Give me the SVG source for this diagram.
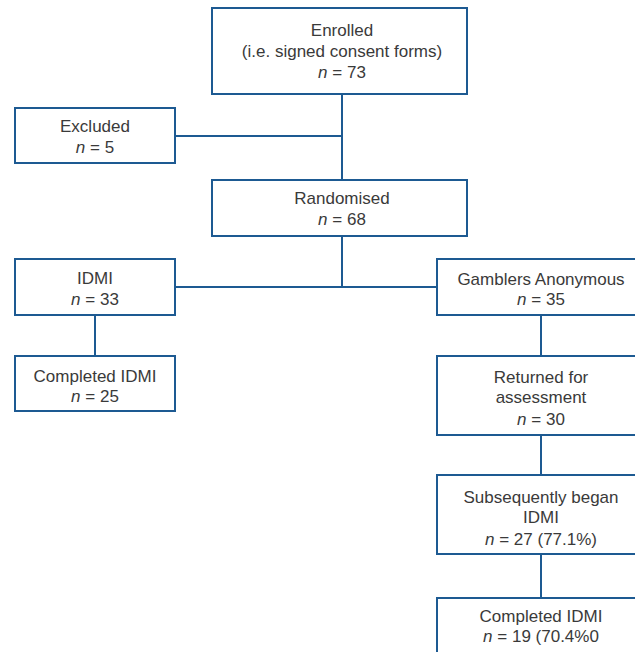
<svg xmlns="http://www.w3.org/2000/svg" width="635" height="652" viewBox="0 0 635 652">
<style>
.box{fill:#fff;stroke:#1d5a92;stroke-width:2}
.ln{fill:none;stroke:#1d5a92;stroke-width:2}
text{font-family:"Liberation Sans",Arial,sans-serif;font-size:17px;fill:#3a3a3a;text-anchor:middle}
.i{font-style:italic}
</style>
<rect width="635" height="652" fill="#fff"/>
<g id="connectors">
<path class="ln" d="M342 94V287"/>
<path class="ln" d="M175 136H342"/>
<path class="ln" d="M175 287H437"/>
<path class="ln" d="M95 315V356"/>
<path class="ln" d="M541 315V356"/>
<path class="ln" d="M541 435V475"/>
<path class="ln" d="M541 554V598"/>
</g>
<g id="enrolled">
<rect class="box" x="212" y="8" width="255" height="86"/>
<text x="342" y="36">Enrolled</text>
<text x="342" y="57">(i.e. signed consent forms)</text>
<text x="342" y="78"><tspan class="i">n</tspan> = 73</text>
</g>
<g id="excluded">
<rect class="box" x="15" y="108" width="160" height="55"/>
<text x="95" y="132">Excluded</text>
<text x="95" y="153"><tspan class="i">n</tspan> = 5</text>
</g>
<g id="randomised">
<rect class="box" x="212" y="180" width="255" height="56"/>
<text x="342" y="204">Randomised</text>
<text x="342" y="225"><tspan class="i">n</tspan> = 68</text>
</g>
<g id="idmi">
<rect class="box" x="15" y="259" width="160" height="56"/>
<text x="95" y="284">IDMI</text>
<text x="95" y="305"><tspan class="i">n</tspan> = 33</text>
</g>
<g id="completed-idmi">
<rect class="box" x="15" y="356" width="160" height="55"/>
<text x="95" y="382">Completed IDMI</text>
<text x="95" y="402"><tspan class="i">n</tspan> = 25</text>
</g>
<g id="ga">
<rect class="box" x="437" y="259" width="210" height="56"/>
<text x="541" y="285">Gamblers Anonymous</text>
<text x="541" y="305"><tspan class="i">n</tspan> = 35</text>
</g>
<g id="returned">
<rect class="box" x="437" y="356" width="210" height="79"/>
<text x="541" y="383">Returned for</text>
<text x="541" y="403">assessment</text>
<text x="541" y="425"><tspan class="i">n</tspan> = 30</text>
</g>
<g id="began">
<rect class="box" x="437" y="475" width="210" height="79"/>
<text x="541" y="503">Subsequently began</text>
<text x="541" y="523">IDMI</text>
<text x="541" y="545"><tspan class="i">n</tspan> = 27 (77.1%)</text>
</g>
<g id="completed-ga">
<rect class="box" x="437" y="598" width="210" height="70"/>
<text x="541" y="622">Completed IDMI</text>
<text x="541" y="642"><tspan class="i">n</tspan> = 19 (70.4%0</text>
</g>
</svg>
